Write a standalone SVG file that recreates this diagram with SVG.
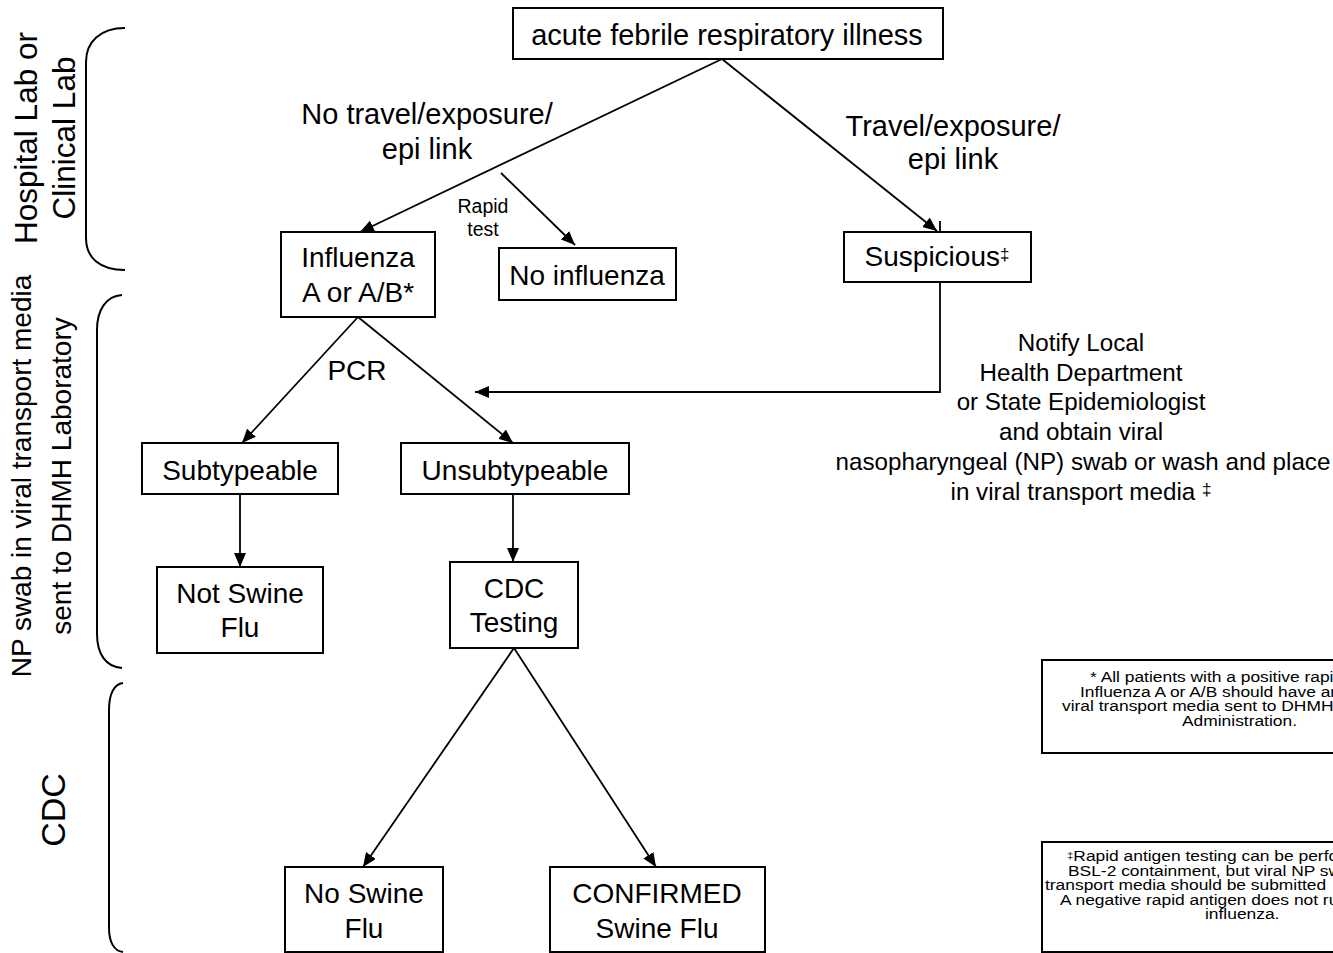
<svg xmlns="http://www.w3.org/2000/svg" width="1333" height="953" viewBox="0 0 1333 953">
<defs>
<marker id="arr" markerUnits="userSpaceOnUse" markerWidth="14" markerHeight="12" refX="14" refY="6" orient="auto">
<path d="M0,0 L14,6 L0,12 z" fill="#000"/>
</marker>
<style>
text{font-family:"Liberation Sans",Arial,sans-serif;fill:#000}
.m{font-size:28px;text-anchor:middle}
.e{font-size:29px;text-anchor:middle}
.s{font-size:31.5px;text-anchor:middle}
.r{font-size:19.5px;text-anchor:middle}
.n{font-size:24.2px;text-anchor:middle}
.f{font-size:14.5px;text-anchor:start}
.box{fill:#fff;stroke:#000;stroke-width:2}
.c{fill:none;stroke:#000;stroke-width:1.8}
.ca{fill:none;stroke:#000;stroke-width:1.8;marker-end:url(#arr)}
.br{fill:none;stroke:#000;stroke-width:2}
.sup{font-size:17px}
</style>
</defs>
<rect width="1333" height="953" fill="#fff"/>

<g id="brackets">
<path class="br" d="M125,28 C100,28 86,42 86,62 L86,238 C86,258 100,270 125,270"/>
<path class="br" d="M122,295 C106,296 97,310 97,330 L97,634 C97,654 106,667 122,668"/>
<path class="br" d="M123,683 C114,684 109,694 109,710 L109,928 C109,942 114,951 123,952"/>
</g>

<g id="side-labels">
<text class="s" transform="translate(37,138) rotate(-90)">Hospital Lab or</text>
<text class="s" transform="translate(75,138) rotate(-90)">Clinical Lab</text>
<text class="m" transform="translate(31,476) rotate(-90)">NP swab in viral transport media</text>
<text class="m" transform="translate(71,476) rotate(-90)">sent to DHMH Laboratory</text>
<text class="m" style="font-size:34px" transform="translate(65,810) rotate(-90)">CDC</text>
</g>

<g id="connectors">
<line class="ca" x1="722" y1="59" x2="360" y2="232"/>
<line class="ca" x1="722" y1="59" x2="937" y2="231"/>
<line class="ca" x1="501" y1="173" x2="575" y2="245"/>
<line class="c" x1="940" y1="221" x2="940" y2="232"/>
<polyline class="ca" points="940,282 940,392 475,392"/>
<line class="ca" x1="358" y1="317" x2="242" y2="443"/>
<line class="ca" x1="358" y1="317" x2="513" y2="443"/>
<line class="ca" x1="240" y1="494" x2="240" y2="567"/>
<line class="ca" x1="513" y1="494" x2="513" y2="562"/>
<line class="ca" x1="514" y1="648" x2="363" y2="867"/>
<line class="ca" x1="514" y1="648" x2="656" y2="867"/>
</g>

<g id="edge-labels">
<text class="e" x="427" y="124">No travel/exposure/</text>
<text class="e" x="427" y="159">epi link</text>
<text class="e" x="953" y="136">Travel/exposure/</text>
<text class="e" x="953" y="169">epi link</text>
<text class="r" x="483" y="213">Rapid</text>
<text class="r" x="483" y="236">test</text>
<text class="m" x="357" y="380">PCR</text>
</g>

<g id="n-acute">
<rect class="box" x="513" y="8" width="430" height="51"/>
<text class="e" x="727" y="45">acute febrile respiratory illness</text>
</g>
<g id="n-influenza">
<rect class="box" x="281" y="232" width="154" height="85"/>
<text class="m" x="358" y="267">Influenza</text>
<text class="m" x="358" y="302">A or A/B*</text>
</g>
<g id="n-noinfluenza">
<rect class="box" x="499" y="248" width="177" height="52"/>
<text class="m" x="587" y="285">No influenza</text>
</g>
<g id="n-suspicious">
<rect class="box" x="844" y="232" width="187" height="50"/>
<text class="m" x="937" y="266">Suspicious<tspan class="sup" dy="-6">‡</tspan></text>
</g>
<g id="n-notify">
<text class="n" x="1081" y="351">Notify Local</text>
<text class="n" x="1081" y="381">Health Department</text>
<text class="n" x="1081" y="410">or State Epidemiologist</text>
<text class="n" x="1081" y="440">and obtain viral</text>
<text class="n" x="1083" y="470">nasopharyngeal (NP) swab or wash and place</text>
<text class="n" x="1081" y="500">in viral transport media <tspan class="sup" dy="-5">‡</tspan></text>
</g>
<g id="n-subtypeable">
<rect class="box" x="142" y="443" width="196" height="51"/>
<text class="m" x="240" y="480">Subtypeable</text>
</g>
<g id="n-unsubtypeable">
<rect class="box" x="401" y="443" width="228" height="51"/>
<text class="m" x="515" y="480">Unsubtypeable</text>
</g>
<g id="n-notswine">
<rect class="box" x="157" y="567" width="166" height="86"/>
<text class="m" x="240" y="603">Not Swine</text>
<text class="m" x="240" y="637">Flu</text>
</g>
<g id="n-cdctesting">
<rect class="box" x="450" y="562" width="128" height="86"/>
<text class="m" x="514" y="598">CDC</text>
<text class="m" x="514" y="632">Testing</text>
</g>
<g id="n-noswine">
<rect class="box" x="285" y="867" width="158" height="85"/>
<text class="m" x="364" y="903">No Swine</text>
<text class="m" x="364" y="938">Flu</text>
</g>
<g id="n-confirmed">
<rect class="box" x="550" y="867" width="215" height="85"/>
<text class="m" x="657" y="903">CONFIRMED</text>
<text class="m" x="657" y="938">Swine Flu</text>
</g>

<g id="note-1">
<rect class="box" x="1042" y="660" width="300" height="93"/>
<text class="f" transform="translate(1090,682) scale(1.2,1)">* All patients with a positive rapid</text>
<text class="f" transform="translate(1080,696.5) scale(1.2,1)">Influenza A or A/B should have an N</text>
<text class="f" transform="translate(1062,711) scale(1.2,1)">viral transport media sent to DHMH L</text>
<text class="f" transform="translate(1182,725.5) scale(1.2,1)">Administration.</text>
</g>
<g id="note-2">
<rect class="box" x="1042" y="842" width="300" height="110"/>
<text class="f" transform="translate(1067,861) scale(1.2,1)"><tspan style="font-size:9.5px" dy="-2">‡</tspan><tspan dy="2">Rapid antigen testing can be perfor</tspan></text>
<text class="f" transform="translate(1068,875.5) scale(1.2,1)">BSL-2 containment, but viral NP sw</text>
<text class="f" transform="translate(1045,890) scale(1.2,1)">transport media should be submitted</text>
<text class="f" transform="translate(1060,904.5) scale(1.2,1)">A negative rapid antigen does not rul</text>
<text class="f" transform="translate(1205,919) scale(1.2,1)">influenza.</text>
</g>
</svg>
